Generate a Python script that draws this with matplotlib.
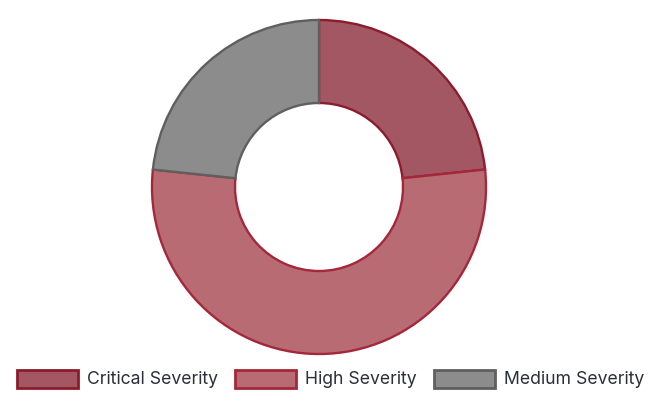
import matplotlib.pyplot as plt
from matplotlib.patches import Rectangle

labels = ['Critical Severity', 'High Severity', 'Medium Severity']
values = [7, 16, 7]
fills = ['#a35763', '#b96b74', '#8c8c8c']
edges = ['#8b1c2e', '#a3283a', '#5f5f5f']

plt.rcParams['font.family'] = ['Inter', 'DejaVu Sans']

fig = plt.figure(figsize=(6.6, 4.04), dpi=100)
ax = fig.add_axes([0, 0, 1, 1])

# centre at (319, 187) from the top -> 217 from the bottom
wedges, _ = ax.pie(values, colors=fills, startangle=90, counterclock=False,
                   center=(319, 217), radius=167,
                   wedgeprops=dict(width=83, linewidth=1.7))
for w, ec in zip(wedges, edges):
    w.set_edgecolor(ec)

# pie() resets the limits, so set pixel-like coords afterwards
ax.set_xlim(0, 660)
ax.set_ylim(0, 404)
ax.set_aspect('equal')
ax.axis('off')

# legend along the bottom
box_x = [17, 235, 434]
for x0, lab, fc, ec in zip(box_x, labels, fills, edges):
    ax.add_patch(Rectangle((x0, 16), 61, 18, facecolor=fc, edgecolor=ec,
                           linewidth=2))
    ax.text(x0 + 70, 24.5, lab, va='center', ha='left', fontsize=12.7,
            color='#2b2f3a')

fig.savefig('out.png', dpi=100)
